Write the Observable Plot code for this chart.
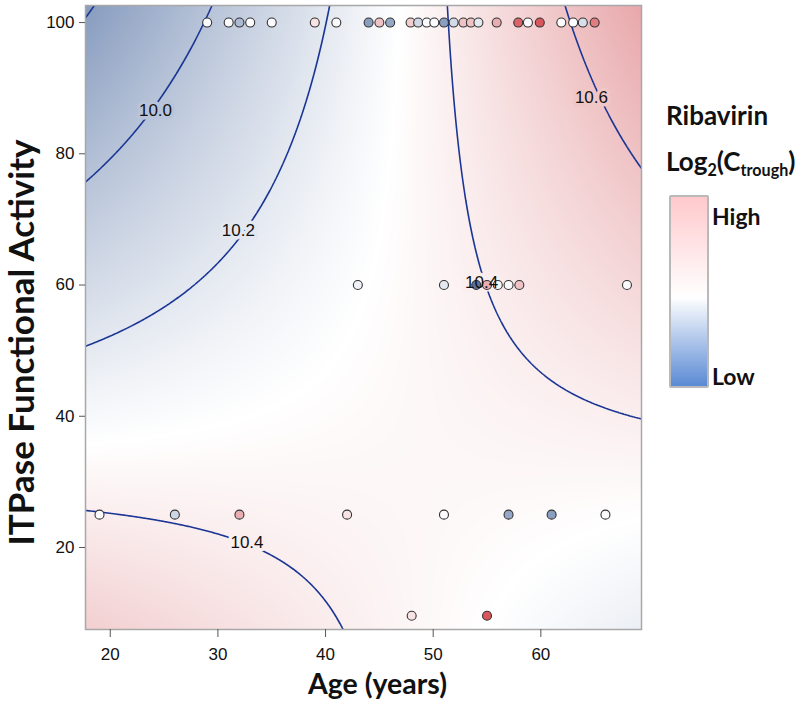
<!DOCTYPE html>
<html><head><meta charset="utf-8">
<script src="https://cdn.jsdelivr.net/npm/d3@7"></script>
<script src="https://cdn.jsdelivr.net/npm/@observablehq/plot@0.6"></script>
<style>
body{margin:0;background:#fff;}
#wrap{position:relative;width:800px;height:722px;overflow:hidden;}
.lg{position:absolute;font-family:Lato,"Open Sans",sans-serif;font-weight:bold;color:#111;white-space:nowrap;}
.lg sub{font-size:62%;vertical-align:-0.3em;line-height:0;}
#bar{position:absolute;left:669px;top:195px;width:36px;height:189px;border:2px solid #b9b9b9;border-radius:2px;
background:linear-gradient(to bottom,#ffc9cc 0%,#ffffff 53%,#5a8ad4 100%);}
</style></head><body><div id="wrap"></div>
<script>
// Fitted surface (log2 Ctrough) read at the four corners of the plotted domain
const surfAge = [17.7, 69.35];
const surfITPA = [7.5, 102.6];
const surfAtLowITPA = [10.545, 10.232];
const surfAtHighITPA = [9.785, 10.73];

// Observed patients
const dotAge = [29,31,32,33,35,39,41,44,45,46,47.9,48.6,49.4,50.1,51,51.9,52.8,53.5,54.2,55.9,57.9,58.8,59.9,61.9,63,63.9,65,
  43,51,54,55,56,57,58,68,
  19,26,32,42,51,57,61,66,
  48,55];
const dotITPA = [100,100,100,100,100,100,100,100,100,100,100,100,100,100,100,100,100,100,100,100,100,100,100,100,100,100,100,
  60,60,60,60,60,60,60,60,
  25,25,25,25,25,25,25,25,
  9.6,9.6];
const dotLog2C = [10.3,10.3,9.95,10.3,10.3,10.45,10.3,9.8,10.6,9.85,10.55,10.12,10.3,10.3,9.8,10.12,10.6,10.6,10.2,10.7,11.0,10.3,11.05,10.3,10.32,10.15,10.9,
  10.25,10.2,9.45,10.7,10.3,10.3,10.6,10.3,
  10.3,10.1,10.7,10.45,10.3,9.85,9.8,10.3,
  10.45,11.05];

const contourLevels = [9.8, 10.0, 10.2, 10.4, 10.6];
const labelText = ["10.0", "10.2", "10.4", "10.4", "10.6"];
const labelAge = [24.2, 31.9, 32.7, 54.5, 64.7];
const labelITPA = [86.6, 68.3, 20.7, 60.4, 88.6];

const xTicks = [20, 30, 40, 50, 60];
const yTicks = [20, 40, 60, 80, 100];

function surface(a, t) {
  const u = (a - surfAge[0]) / (surfAge[1] - surfAge[0]);
  const v = (t - surfITPA[0]) / (surfITPA[1] - surfITPA[0]);
  const lo = surfAtLowITPA[0] * (1 - u) + surfAtLowITPA[1] * u;
  const hi = surfAtHighITPA[0] * (1 - u) + surfAtHighITPA[1] * u;
  return lo * (1 - v) + hi * v;
}

const dots = dotAge.map((a, i) => ({age: a, itpa: dotITPA[i], v: dotLog2C[i]}));
const labels = labelText.map((t, i) => ({t, age: labelAge[i], itpa: labelITPA[i]}));
const bounds = {x1: surfAge[0], x2: surfAge[1], y1: surfITPA[0], y2: surfITPA[1]};
// contours are traced on a slightly larger area and clipped, so no polygon edge runs along the frame
const outer = {x1: surfAge[0] - 5, x2: surfAge[1] + 5, y1: surfITPA[0] - 8, y2: surfITPA[1] + 8};
const tickFont = "'Liberation Sans Narrow','Liberation Sans',Arial,sans-serif";
const titleFont = "Lato, 'Open Sans', sans-serif";

const chart = Plot.plot({
  width: 800, height: 722,
  marginLeft: 85, marginRight: 159, marginTop: 5, marginBottom: 93,
  x: {domain: [surfAge[0], surfAge[1]]},
  y: {domain: [surfITPA[0], surfITPA[1]]},
  color: {type: "linear", domain: [9.4, 9.8, 10.32, 10.75, 11.1],
          range: ["#566b96", "#8a9ec0", "#ffffff", "#e7a3a6", "#d64a51"], interpolate: "rgb"},
  style: {background: "white", fontFamily: tickFont, color: "#111"},
  marks: [
    Plot.raster({...bounds, fill: (x, y) => surface(x, y), pixelSize: 1}),
    Plot.contour({...outer, value: (x, y) => surface(x, y), thresholds: contourLevels,
      stroke: "#1a3594", strokeWidth: 1.6, fill: "none", pixelSize: 1, clip: "frame"}),
    Plot.text(labels, {x: "age", y: "itpa", text: "t", fill: "none",
      stroke: d => surface(d.age, d.itpa), strokeWidth: 7, fontSize: 17, fontFamily: tickFont}),
    Plot.dot(dots, {x: "age", y: "itpa", r: 4.5, fill: "v", stroke: "#333", strokeWidth: 1.1}),
    Plot.text(labels, {x: "age", y: "itpa", text: "t", fill: "#111", fontSize: 17, fontFamily: tickFont}),
    Plot.frame({stroke: "#a8a8a8", strokeWidth: 1.5}),
    Plot.axisX({ticks: xTicks, tickSize: 8, tickPadding: 10, label: null, fontSize: 17, stroke: "#555"}),
    Plot.axisY({ticks: yTicks, tickSize: 6, tickPadding: 5, label: null, fontSize: 17, stroke: "#555"}),
    Plot.text(["Age (years)"], {frameAnchor: "bottom", dx: 14, dy: 64, fontSize: 28.5,
      fontWeight: "bold", fontFamily: titleFont, fill: "#111"}),
    Plot.text(["ITPase Functional Activity"], {frameAnchor: "left", textAnchor: "middle", dx: -63, dy: 25,
      rotate: -90, fontSize: 35, fontWeight: "bold", fontFamily: titleFont, fill: "#111"})
  ]
});
const wrap = document.getElementById("wrap");
wrap.appendChild(chart);

function addText(html, left, top, size) {
  const d = document.createElement("div");
  d.className = "lg";
  d.style.left = left + "px"; d.style.top = top + "px"; d.style.fontSize = size + "px";
  d.style.lineHeight = "1";
  d.innerHTML = html;
  wrap.appendChild(d);
}
addText("Ribavirin", 666, 102, 26);
addText("Log<sub>2</sub>(C<sub>trough</sub>)", 666, 148, 26);
const bar = document.createElement("div"); bar.id = "bar"; wrap.appendChild(bar);
addText("High", 712, 205, 23);
addText("Low", 712, 365, 23);
</script></body></html>
